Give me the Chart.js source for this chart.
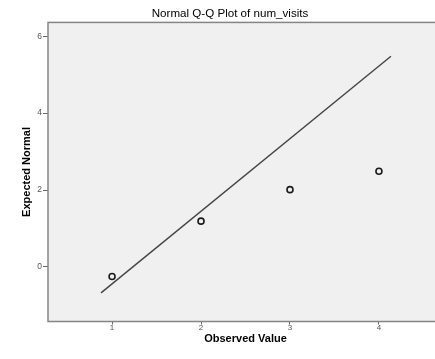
<!DOCTYPE html>
<html>
<head>
<meta charset="utf-8">
<script src="https://cdn.jsdelivr.net/npm/chart.js@4"></script>
<style>
  html, body { margin: 0; padding: 0; background: #fff; overflow: hidden; }
  #wrap { width: 460px; height: 359px; }
</style>
</head>
<body>
<div id="wrap"><canvas id="qq" width="460" height="359"></canvas></div>
<script>
// observed values and their expected normal scores
const observed = [1, 2, 3, 4];
const expected = [-0.25, 1.19, 2.01, 2.49];

// reference line end points
const lineX = [0.876, 4.135];
const lineY = [-0.675, 5.48];

const xTicks = [1, 2, 3, 4];
const yTicks = [0, 2, 4, 6];

const FONT = "'Liberation Sans', Arial, sans-serif";

// grey plot background with a frame round it
const plotFrame = {
  id: "plotFrame",
  beforeDraw(chart) {
    const { ctx, chartArea: a } = chart;
    ctx.save();
    ctx.fillStyle = "#f0f0f0";
    ctx.fillRect(a.left, a.top, a.right - a.left, a.bottom - a.top);
    ctx.restore();
  },
  afterDraw(chart) {
    const { ctx, chartArea: a } = chart;
    ctx.save();
    ctx.strokeStyle = "#858585";
    ctx.lineWidth = 1.5;
    ctx.strokeRect(a.left, a.top, a.right - a.left, a.bottom - a.top);
    ctx.restore();
  },
};

document.addEventListener("DOMContentLoaded", function () {
  const points = observed.map((x, i) => ({ x: x, y: expected[i] }));
  const line = lineX.map((x, i) => ({ x: x, y: lineY[i] }));

  new Chart(document.getElementById("qq"), {
    type: "scatter",
    data: {
      datasets: [
        {
          label: "Observed",
          data: points,
          pointRadius: 3,
          pointBorderWidth: 1.6,
          pointBorderColor: "#1a1a1a",
          pointBackgroundColor: "rgba(0,0,0,0)",
        },
        {
          type: "line",
          label: "Line",
          data: line,
          borderColor: "#444",
          borderWidth: 1.4,
          pointRadius: 0,
          fill: false,
        },
      ],
    },
    options: {
      responsive: false,
      animation: false,
      layout: { padding: { left: 17, right: 17, top: 0, bottom: 0 } },
      plugins: {
        legend: { display: false },
        tooltip: { enabled: false },
        title: {
          display: true,
          text: "Normal Q-Q Plot of num_visits",
          color: "#000",
          font: { family: FONT, size: 11.6, weight: "normal", lineHeight: 1.2 },
          padding: { top: 7, bottom: 1.5 },
        },
      },
      scales: {
        x: {
          type: "linear",
          min: 0.28,
          max: 4.72,
          afterBuildTicks: (s) => { s.ticks = xTicks.map((v) => ({ value: v })); },
          afterFit: (s) => { s.height = 37.5; },
          border: { display: false },
          grid: { drawOnChartArea: false, drawTicks: true, tickLength: 3, color: "#666" },
          ticks: { color: "#555", padding: -2, font: { family: FONT, size: 8 } },
          title: {
            display: true,
            text: "Observed Value",
            color: "#000",
            font: { family: FONT, size: 11, weight: "bold", lineHeight: 1.2 },
            padding: { top: 0, bottom: 13.5 },
          },
        },
        y: {
          type: "linear",
          min: -1.42,
          max: 6.36,
          afterBuildTicks: (s) => { s.ticks = yTicks.map((v) => ({ value: v })); },
          afterFit: (s) => { s.width = 31; },
          border: { display: false },
          grid: { drawOnChartArea: false, drawTicks: true, tickLength: 5, color: "#666" },
          ticks: { color: "#555", padding: 1, font: { family: FONT, size: 8.5 } },
          title: {
            display: true,
            text: "Expected Normal",
            color: "#000",
            font: { family: FONT, size: 11, weight: "bold", lineHeight: 1.2 },
            padding: { top: 3, bottom: 0 },
          },
        },
      },
    },
    plugins: [plotFrame],
  });
});
</script>
</body>
</html>
